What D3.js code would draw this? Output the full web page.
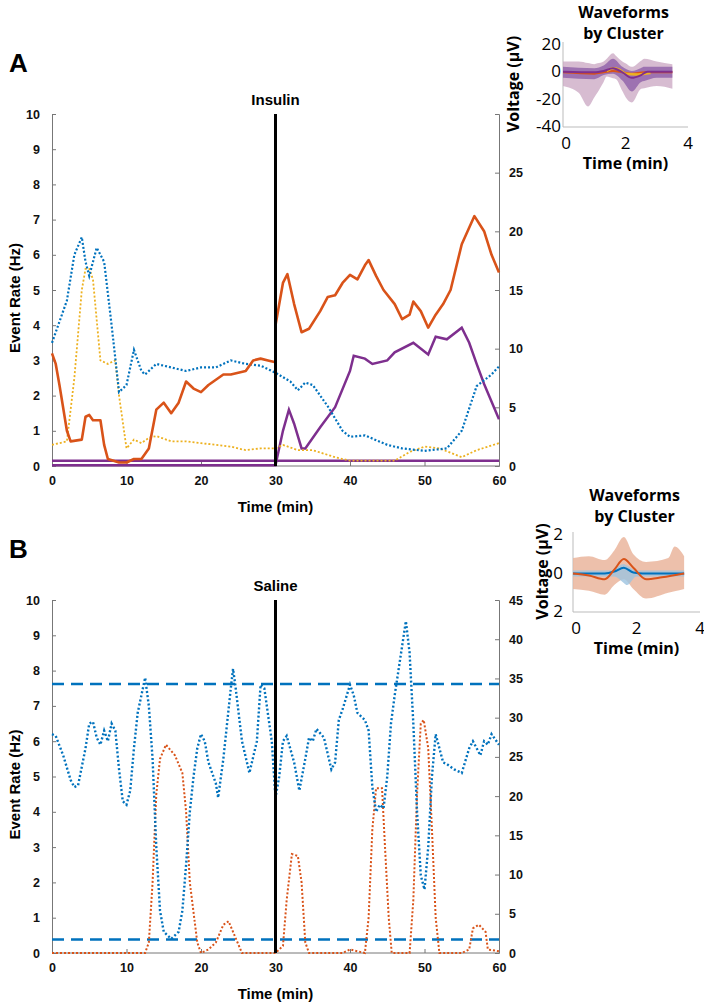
<!DOCTYPE html>
<html>
<head>
<meta charset="utf-8">
<script src="https://cdn.jsdelivr.net/npm/d3@7"></script>
<style>
  body { margin: 0; background: #fff; }
  svg { display: block; }
  .tick-lbl { font-family: "Liberation Sans", Arial, sans-serif; font-weight: bold; font-size: 12.5px; fill: #111; }
  .ax-title { font-family: "Liberation Sans", Arial, sans-serif; font-weight: bold; font-size: 15px; fill: #000; }
  .ins { font-family: "Open Sans", "Noto Sans", sans-serif; fill: #000; }
</style>
</head>
<body>
<svg id="fig" width="704" height="1005"></svg>
<script>
// ── Panel A (Insulin), values in Hz, [min, Hz] ──
const aBlue = [[0,3.5],[1,4.1],[2,4.7],[3,6.0],[4,6.5],[4.5,5.8],[5,5.4],[6,6.2],[7,5.8],[8,4.0],[9,2.1],[10,2.3],[11,3.3],[12,2.7],[12.5,2.6],[14,2.9],[16,2.8],[18,2.7],[20,2.8],[22,2.8],[24,3.0],[26,2.9],[28,2.85],[30,2.65],[32,2.4],[33,2.15],[34,2.37],[35,2.3],[37,1.7],[39,1.0],[40,0.83],[42,0.87],[45,0.6],[47,0.5],[50,0.43],[53,0.5],[55,1.0],[57,2.27],[59,2.6],[60,2.83]];
const aYellow = [[0,0.6],[2,0.7],[3,2.5],[4,5.0],[4.5,5.6],[5,5.6],[5.5,5.3],[6.5,3.0],[7.5,2.9],[8.5,3.0],[9,2.0],[10,0.5],[11,0.75],[12,0.65],[13,0.8],[14,0.85],[16,0.7],[18,0.7],[20,0.65],[22,0.6],[24,0.55],[26,0.45],[28,0.5],[30,0.5],[31,0.6],[33,0.45],[35,0.45],[38,0.25],[40,0.15],[44,0.15],[46,0.15],[48,0.4],[50,0.55],[52,0.5],[55,0.25],[57,0.45],[60,0.65]];
const aOrange = [[0,3.2],[0.5,2.9],[1,2.3],[2,1.0],[2.5,0.7],[4,0.75],[4.5,1.4],[5,1.45],[5.5,1.3],[6.5,1.3],[7,0.6],[7.5,0.2],[9,0.1],[10,0.1],[11,0.2],[12,0.2],[13,0.5],[14,1.6],[15,1.8],[16,1.5],[17,1.8],[18,2.4],[19,2.2],[20,2.1],[21,2.3],[22,2.45],[23,2.6],[24,2.6],[25,2.65],[26,2.7],[27,3.0],[28,3.05],[29,3.0],[30,2.95],[30,4.0],[31,5.2],[31.6,5.45],[32.5,4.6],[33.5,3.8],[34.5,3.9],[36,4.4],[37,4.8],[38,4.85],[39,5.2],[40,5.43],[41,5.3],[42,5.7],[42.5,5.85],[43.5,5.4],[44.5,5.0],[46,4.6],[47,4.17],[48,4.3],[48.5,4.67],[49.5,4.4],[50.5,3.93],[51.5,4.3],[52.5,4.6],[53.5,5.0],[55,6.3],[56.7,7.1],[58,6.67],[59,6.0],[60,5.5]];
const aPurpleFlat = [[0,0.15],[60,0.15]];
const aPurple = [[0,0.02],[30,0.02],[31,1.0],[31.8,1.6],[32.5,1.2],[33.5,0.5],[34,0.5],[36,1.1],[38,1.67],[40,2.7],[40.5,3.13],[42,3.05],[43,2.9],[45,3.0],[46,3.23],[48.5,3.5],[50.5,3.17],[51.5,3.67],[53,3.6],[55,3.93],[56,3.5],[57,2.9],[58,2.33],[60,1.33]];

// ── Panel B (Saline) ──
const bBlue = [[0,6.2],[0.5,6.15],[1.5,5.6],[2.5,4.9],[3,4.7],[3.5,4.75],[4.5,5.8],[5,6.5],[5.5,6.55],[6,6.1],[6.5,5.9],[7,6.3],[7.5,6.0],[8,6.5],[8.5,6.3],[9,5.2],[9.5,4.3],[10,4.2],[10.5,4.6],[11,5.8],[11.5,6.8],[12.5,7.8],[13,7.0],[13.5,5.5],[14,3.0],[14.5,1.2],[15,0.6],[16,0.4],[17,0.6],[17.5,1.2],[18,2.5],[18.5,4.0],[19,5.0],[19.5,5.8],[20,6.2],[20.5,6.0],[21,5.4],[22,4.8],[22.3,4.4],[23,5.5],[24,7.5],[24.3,8.05],[24.6,7.6],[25.5,6.0],[26.5,5.1],[27.5,6.0],[28,7.6],[28.5,7.5],[29.5,6.0],[30,4.4],[30.5,5.0],[31,6.0],[31.5,6.15],[32.5,5.4],[33.2,4.6],[34,5.5],[34.5,6.1],[35,6.0],[35.5,6.35],[36.5,6.1],[37.5,5.2],[38,5.4],[38.5,6.6],[39,6.9],[40,7.6],[40.5,7.3],[41,6.8],[42,6.6],[42.5,6.3],[43,4.7],[43.5,4.0],[44,4.2],[44.5,4.1],[45,5.0],[45.5,6.5],[46,7.3],[47,8.7],[47.5,9.4],[48,8.5],[48.5,6.5],[49,4.0],[49.5,2.2],[50,1.8],[50.5,3.0],[51,5.0],[51.5,6.2],[52,5.8],[52.5,5.4],[53,5.35],[54,5.2],[55,5.1],[56,5.8],[56.5,6.0],[57,5.8],[57.5,5.6],[58,6.0],[58.5,5.9],[59,6.2],[60,5.9]];
const bOrange = [[0,0],[12.5,0],[13,0.3],[13.5,2.0],[14,4.5],[14.5,5.5],[15.3,5.9],[16.5,5.6],[17.5,5.1],[18,4.0],[18.5,2.0],[19.5,0.3],[20,0],[21,0.1],[22,0.3],[23,0.8],[23.7,0.9],[24.5,0.5],[25.5,0],[30,0],[31,0.2],[31.5,1.5],[32.2,2.8],[33,2.75],[33.5,2.0],[34,0.3],[34.5,0],[39,0],[40,0.1],[41,0.05],[42,0],[42.5,1.0],[43,3.5],[43.5,4.67],[44.3,4.67],[44.7,3.0],[45.2,1.0],[45.6,0],[48,0],[48.5,1.5],[49,4.5],[49.5,6.5],[49.9,6.6],[50.5,5.8],[51,3.5],[51.5,1.0],[52,0],[55,0],[56,0.1],[56.5,0.7],[57.3,0.8],[58.2,0.6],[58.5,0.1],[60,0.05]];
const bThresholds = [7.62, 0.38];

// ── Axis ticks ──
const xTicks = [0, 10, 20, 30, 40, 50, 60];
const yTicks = [0, 1, 2, 3, 4, 5, 6, 7, 8, 9, 10];
const aRightTicks = [0, 5, 10, 15, 20, 25];
const bRightTicks = [0, 5, 10, 15, 20, 25, 30, 35, 40, 45];

// ── Waveform insets (envelopes + cluster means) ──
const wA_upper = [[0,8],[0.5,8],[1,6],[1.3,8],[1.6,14],[1.9,8],[2.2,4],[2.6,10],[3,8],[3.5,6]];
const wA_lower = [[0,-10],[0.5,-15],[0.8,-25],[1.1,-15],[1.4,-3],[1.7,-5],[2.0,-18],[2.2,-22],[2.5,-12],[3,-10],[3.5,-12]];
const wA_coreUp = [[0,4],[1,3],[1.3,5],[1.6,10],[1.9,4],[2.2,1],[2.6,4],[3.5,4]];
const wA_coreLo = [[0,-4],[1,-5],[1.3,-2],[1.6,-1],[1.9,-6],[2.2,-14],[2.5,-7],[3,-4],[3.5,-4]];
const wA_meanPurple = [[0,0.5],[1,0],[1.3,1],[1.6,3],[1.9,0],[2.2,-4],[2.5,-2],[2.7,0.5],[3.5,0.5]];
const wA_meanRed = [[0,0],[1,-1],[1.3,0],[1.6,1],[1.9,0],[2.2,-1],[2.6,0],[3.5,0]];
const wA_meanYellow = [[1.4,1],[1.6,3],[1.8,2],[2.0,-1],[2.4,-1.5],[2.8,-0.5]];
const wB_upper = [[0,0.8],[0.5,0.9],[1,0.7],[1.3,1.2],[1.6,1.9],[1.9,1.0],[2.3,0.6],[3,0.8],[3.2,1.4],[3.5,0.9]];
const wB_lower = [[0,-0.8],[0.5,-0.9],[1,-1.1],[1.3,-0.6],[1.6,-0.3],[1.9,-0.8],[2.3,-1.3],[3,-1.0],[3.5,-0.8]];
const wB_blueUp = [[0,0.15],[1.2,0.15],[1.6,0.5],[2,0.15],[3.5,0.15]];
const wB_blueLo = [[0,-0.15],[1.3,-0.15],[1.7,-0.6],[2,-0.15],[3.5,-0.15]];
const wB_meanOrange = [[0,0],[0.5,-0.1],[1.0,-0.3],[1.3,0.2],[1.6,0.75],[1.9,0.3],[2.3,-0.3],[2.8,-0.2],[3.5,0]];
const wB_meanBlue = [[0,0],[1,0],[1.3,0.1],[1.6,0.3],[1.9,0.05],[2.2,0],[3.5,0]];

const C = { blue: "#0072BD", orange: "#D95319", yellow: "#EDB120", purple: "#7E2F8E" };
const svg = d3.select("#fig");
const FONT = '"Liberation Sans", Arial, sans-serif';

function panel({ top, bottom, rightMax, rightTicks, title, label }) {
  const x = d3.scaleLinear().domain([0, 60]).range([52, 499]);
  const y = d3.scaleLinear().domain([0, 10]).range([bottom, top]);
  const yR = d3.scaleLinear().domain([0, rightMax]).range([bottom, top]);
  const g = svg.append("g");

  // axes with inward ticks, MATLAB style
  const la = g.append("g").attr("transform", `translate(${x(0)},0)`)
    .call(d3.axisLeft(y).tickValues(yTicks).tickSize(-4).tickPadding(12));
  const ra = g.append("g").attr("transform", `translate(${x(60)},0)`)
    .call(d3.axisRight(yR).tickValues(rightTicks).tickSize(-4).tickPadding(10));
  const ba = g.append("g").attr("transform", `translate(0,${bottom})`)
    .call(d3.axisBottom(x).tickValues(xTicks).tickSize(-4).tickPadding(10));
  [la, ra, ba].forEach(a => {
    a.select(".domain").attr("stroke", "#777");
    a.selectAll(".tick line").attr("stroke", "#777");
    a.selectAll(".tick text").attr("class", "tick-lbl").attr("font-family", null).attr("font-size", null);
  });
  ba.select(".domain").attr("d", `M${x(0)},0H${x(60)}`);

  g.append("text").attr("class", "ax-title").attr("x", x(30)).attr("y", top - 9)
    .attr("text-anchor", "middle").text(title);
  g.append("text").attr("class", "ax-title").attr("x", x(30)).attr("y", bottom + 46)
    .attr("text-anchor", "middle").text("Time (min)");
  g.append("text").attr("class", "ax-title")
    .attr("transform", `translate(20,${(top + bottom) / 2 + 8}) rotate(-90)`)
    .attr("text-anchor", "middle").text("Event Rate (Hz)");
  g.append("text").attr("x", 9).attr("y", top - 42)
    .style("font-family", FONT).style("font-weight", "bold").style("font-size", "26px").text(label);

  const line = d3.line().x(d => x(d[0])).y(d => y(d[1]));
  return { g, x, y, line };
}

// ── Panel A ──
const A = panel({ top: 114, bottom: 466, rightMax: 30, rightTicks: aRightTicks, title: "Insulin", label: "A" });
A.g.append("path").datum(aPurpleFlat).attr("d", A.line).attr("fill", "none").attr("stroke", C.purple).attr("stroke-width", 2.5);
A.g.append("path").datum(aPurple).attr("d", A.line).attr("fill", "none").attr("stroke", C.purple).attr("stroke-width", 2.5);
A.g.append("path").datum(aYellow).attr("d", A.line).attr("fill", "none").attr("stroke", C.yellow).attr("stroke-width", 1.8).attr("stroke-dasharray", "2,2");
A.g.append("path").datum(aBlue).attr("d", A.line).attr("fill", "none").attr("stroke", C.blue).attr("stroke-width", 2.2).attr("stroke-dasharray", "2,2");
A.g.append("path").datum(aOrange).attr("d", A.line).attr("fill", "none").attr("stroke", C.orange).attr("stroke-width", 2.6).attr("stroke-linejoin", "round");
A.g.append("line").attr("x1", A.x(30)).attr("x2", A.x(30)).attr("y1", A.y(10)).attr("y2", A.y(0))
  .attr("stroke", "#000").attr("stroke-width", 3);

// ── Panel B ──
const B = panel({ top: 600, bottom: 953, rightMax: 45, rightTicks: bRightTicks, title: "Saline", label: "B" });
bThresholds.forEach(v => {
  B.g.append("line").attr("x1", B.x(0)).attr("x2", B.x(60)).attr("y1", B.y(v)).attr("y2", B.y(v))
    .attr("stroke", C.blue).attr("stroke-width", 2.5).attr("stroke-dasharray", "12,7");
});
B.g.append("path").datum(bOrange).attr("d", B.line).attr("fill", "none").attr("stroke", C.orange).attr("stroke-width", 2).attr("stroke-dasharray", "2,2");
B.g.append("path").datum(bBlue).attr("d", B.line).attr("fill", "none").attr("stroke", C.blue).attr("stroke-width", 2.4).attr("stroke-dasharray", "2,2.2");
B.g.append("line").attr("x1", B.x(30)).attr("x2", B.x(30)).attr("y1", B.y(10)).attr("y2", B.y(0))
  .attr("stroke", "#000").attr("stroke-width", 3);

// ── Waveform insets ──
function inset({ x0, x1, yTop, yBot, yDom, yTickVals, yTickLbls, titleY, labelX, tickGap }) {
  const x = d3.scaleLinear().domain([0, 4]).range([x0, x1]);
  const y = d3.scaleLinear().domain(yDom).range([yBot, yTop]);
  const g = svg.append("g");
  g.append("path").attr("d", `M${x0},${yTop - 3}V${yBot}H${x1}`).attr("fill", "none").attr("stroke", "#bbb").attr("stroke-width", 1);
  yTickVals.forEach((v, i) => {
    g.append("text").attr("class", "ins").attr("x", x0 - tickGap).attr("y", y(v) + 5)
      .attr("text-anchor", "end").style("font-size", "17px").text(yTickLbls[i]);
  });
  [0, 2, 4].forEach(v => {
    g.append("text").attr("class", "ins").attr("x", x(v) + (v === 0 ? 3 : 0)).attr("y", yBot + 22)
      .attr("text-anchor", "middle").style("font-size", "17px").text(v);
  });
  g.append("text").attr("class", "ins").attr("x", (x0 + x1) / 2 - 2).attr("y", titleY)
    .attr("text-anchor", "middle").style("font-size", "16px").style("font-weight", "bold").text("Waveforms");
  g.append("text").attr("class", "ins").attr("x", (x0 + x1) / 2 - 2).attr("y", titleY + 21)
    .attr("text-anchor", "middle").style("font-size", "16px").style("font-weight", "bold").text("by Cluster");
  g.append("text").attr("class", "ins").attr("x", (x0 + x1) / 2).attr("y", yBot + 42)
    .attr("text-anchor", "middle").style("font-size", "16px").style("font-weight", "bold").text("Time (min)");
  g.append("text").attr("class", "ins")
    .attr("transform", `translate(${labelX},${(yTop + yBot) / 2 - 2}) rotate(-90)`)
    .attr("text-anchor", "middle").style("font-size", "16px").style("font-weight", "bold").text("Voltage (µV)");
  const line = d3.line().x(d => x(d[0])).y(d => y(d[1])).curve(d3.curveMonotoneX);
  const interp = (arr, t) => {
    const i = d3.bisector(d => d[0]).left(arr, t);
    if (i <= 0) return arr[0][1];
    if (i >= arr.length) return arr[arr.length - 1][1];
    const a = arr[i - 1], b = arr[i];
    return a[1] + (b[1] - a[1]) * (t - a[0]) / (b[0] - a[0]);
  };
  const band = (up, lo) => {
    const xs = Array.from(new Set(up.map(d => d[0]).concat(lo.map(d => d[0])))).sort((a, b) => a - b);
    return d3.area().x(t => x(t)).y0(t => y(interp(lo, t))).y1(t => y(interp(up, t))).curve(d3.curveMonotoneX)(xs);
  };
  return { g, x, y, line, band };
}

const IA = inset({ x0: 563, x1: 688, yTop: 45, yBot: 127, yDom: [-40, 20], yTickVals: [20, 0, -20, -40], yTickLbls: ["20", "0", "-20", "-40"], titleY: 18, labelX: 519, tickGap: 2 });
IA.g.append("path").attr("d", IA.band(wA_upper, wA_lower)).attr("fill", "#c9a6c2").attr("opacity", 0.75);
IA.g.append("path").attr("d", IA.band(wA_coreUp, wA_coreLo)).attr("fill", "#8a5aa6").attr("opacity", 0.75);
IA.g.append("path").datum(wA_meanRed).attr("d", IA.line).attr("fill", "none").attr("stroke", C.orange).attr("stroke-width", 2);
IA.g.append("path").datum(wA_meanYellow).attr("d", IA.line).attr("fill", "none").attr("stroke", C.yellow).attr("stroke-width", 2.5);
IA.g.append("path").datum(wA_meanPurple).attr("d", IA.line).attr("fill", "none").attr("stroke", C.purple).attr("stroke-width", 2);

const IB = inset({ x0: 573, x1: 700, yTop: 535, yBot: 612, yDom: [-2, 2], yTickVals: [2, 0, -2], yTickLbls: ["2", "0", "2"], titleY: 501, labelX: 548, tickGap: 10 });
IB.g.append("path").attr("d", IB.band(wB_upper, wB_lower)).attr("fill", "#eab59c").attr("opacity", 0.85);
IB.g.append("path").attr("d", IB.band(wB_blueUp, wB_blueLo)).attr("fill", "#9cc3e0").attr("opacity", 0.8);
IB.g.append("path").datum(wB_meanBlue).attr("d", IB.line).attr("fill", "none").attr("stroke", C.blue).attr("stroke-width", 2);
IB.g.append("path").datum(wB_meanOrange).attr("d", IB.line).attr("fill", "none").attr("stroke", C.orange).attr("stroke-width", 2);
</script>
</body>
</html>
